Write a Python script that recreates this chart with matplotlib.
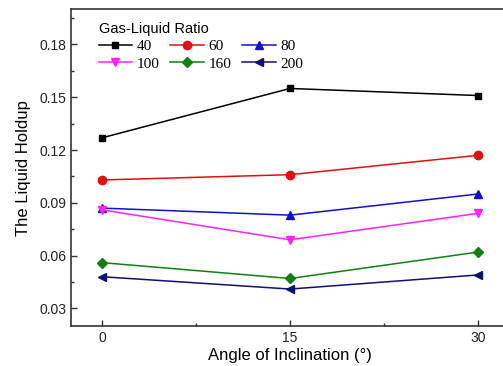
import matplotlib
matplotlib.use("Agg")
import matplotlib.pyplot as plt
from matplotlib.ticker import MultipleLocator

angles = [0, 15, 30]
labels = ["40", "60", "80", "100", "160", "200"]
r40 = [0.127, 0.155, 0.151]
r60 = [0.103, 0.106, 0.117]
r80 = [0.087, 0.083, 0.095]
r100 = [0.086, 0.069, 0.084]
r160 = [0.056, 0.047, 0.062]
r200 = [0.048, 0.041, 0.049]
series = [r40, r60, r80, r100, r160, r200]
colors = ["#000000", "#e01010", "#1010d0", "#ff20ff", "#108010", "#101070"]
markers = ["s", "o", "^", "v", "D", "<"]
msizes = [5, 6, 6, 6, 5, 6]

fig = plt.figure(figsize=(5.03, 3.66), dpi=100)
ax = fig.add_axes([71/503, 40/366, (509-71)/503, (326-9.3)/366])

handles = []
for vals, lab, c, m, ms in zip(series, labels, colors, markers, msizes):
    h, = ax.plot(angles, vals, color=c, marker=m, markersize=ms, linewidth=1.1, label=lab)
    handles.append(h)

ax.set_xlim(-2.5, 32.5)
ax.set_ylim(0.02, 0.2)
ax.set_xticks([0, 15, 30])
ax.xaxis.set_minor_locator(MultipleLocator(7.5))
ax.set_yticks([0.03, 0.06, 0.09, 0.12, 0.15, 0.18])
ax.set_yticklabels(["0.03", "0.06", "0.09", "0.12", "0.15", "0.18"])
ax.yaxis.set_minor_locator(MultipleLocator(0.015))
ax.tick_params(which="both", direction="in", colors="#333333", labelcolor="#222222", labelsize=10)
ax.tick_params(which="major", length=4, width=1)
ax.tick_params(which="minor", length=2.5, width=1)
for s in ax.spines.values():
    s.set_linewidth(1.2)
    s.set_color("#333333")
for t in ax.get_xticklabels() + ax.get_yticklabels():
    t.set_fontfamily("Liberation Sans")

ax.set_xlabel("Angle of Inclination (°)", fontsize=12, family="Liberation Sans", labelpad=2)
ax.set_ylabel("The Liquid Holdup", fontsize=12, family="Liberation Sans", labelpad=6)

order = [0, 3, 1, 4, 2, 5]
leg = ax.legend([handles[i] for i in order], [labels[i] for i in order],
                ncol=3, loc="upper left", bbox_to_anchor=(0.042, 0.99), frameon=False,
                title="Gas-Liquid Ratio", prop={"family": "Liberation Serif", "size": 11},
                handlelength=2.2, handletextpad=0.3, columnspacing=0.7, labelspacing=0.25,
                borderaxespad=0.2)
leg.get_title().set_fontfamily("Liberation Sans")
leg.get_title().set_fontsize(10.5)
leg._legend_box.align = "left"

fig.savefig("out.png", dpi=100)
